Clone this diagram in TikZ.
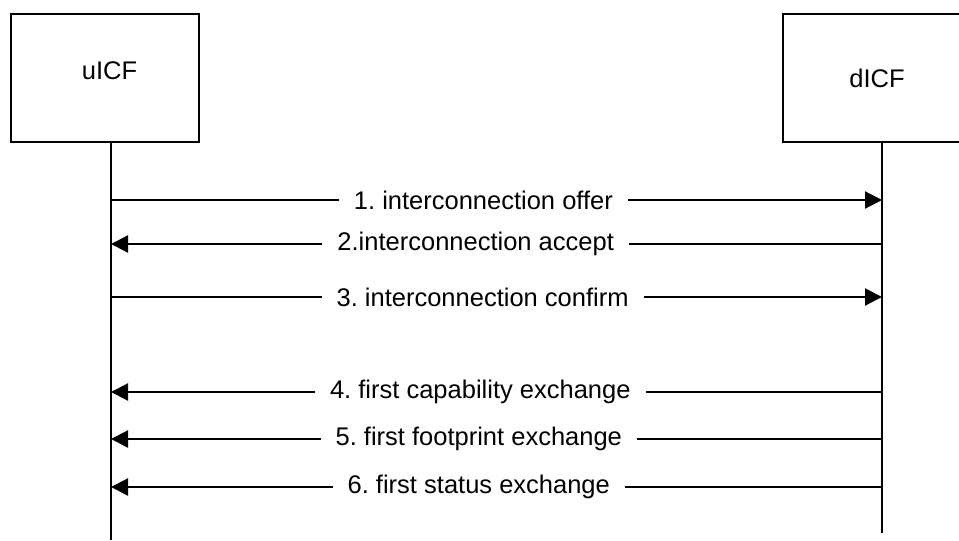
\documentclass[tikz,border=0pt]{standalone}
\usepackage{fontspec}
\setmainfont{Liberation Sans}
\usetikzlibrary{arrows.meta}
\frenchspacing
\begin{document}
\begin{tikzpicture}[x=1pt,y=-1pt,
  box/.style={draw,line width=2.6pt,minimum width=188pt,minimum height=128pt,inner sep=0pt,font=\fontsize{25.5}{30}\selectfont},
  txt/.style={font=\fontsize{25.5}{30}\selectfont,inner sep=0pt},
  life/.style={line width=2.2pt},
  msg/.style={line width=2.2pt,-{Triangle[length=17pt,width=17pt]}},
  lbl/.style={fill=white,inner xsep=15pt,inner ysep=2pt,font=\fontsize{25.5}{30}\selectfont}]
\clip (0,0) rectangle (959,541);
\node[box] (U) at (105,78) {};
\node[txt] (ut) at (109.5,71) {uICF};
\node[box] (D) at (877,78) {dICF};
\coordinate (ue) at (111,540);
\coordinate (de) at (882,533);
\draw[life] (ue |- U.south) -- (ue);
\draw[life] (de |- D.south) -- (de);
\foreach \n/\y in {1/200,2/244,3/297,4/392,5/439,6/487}{
  \coordinate (u\n) at (111,\y);
  \coordinate (d\n) at (882,\y);
}
\draw[msg] (u1) -- node[lbl,pos=0.483]{1. interconnection offer} (d1);
\draw[msg] (d2) -- node[lbl,pos=0.527]{2.interconnection accept} (u2);
\draw[msg] (u3) -- node[lbl,pos=0.482]{3. interconnection confirm} (d3);
\draw[msg] (d4) -- node[lbl,pos=0.521]{4. first capability exchange} (u4);
\draw[msg] (d5) -- node[lbl,pos=0.523]{5. first footprint exchange} (u5);
\draw[msg] (d6) -- node[lbl,pos=0.523]{6. first status exchange} (u6);
\end{tikzpicture}
\end{document}
